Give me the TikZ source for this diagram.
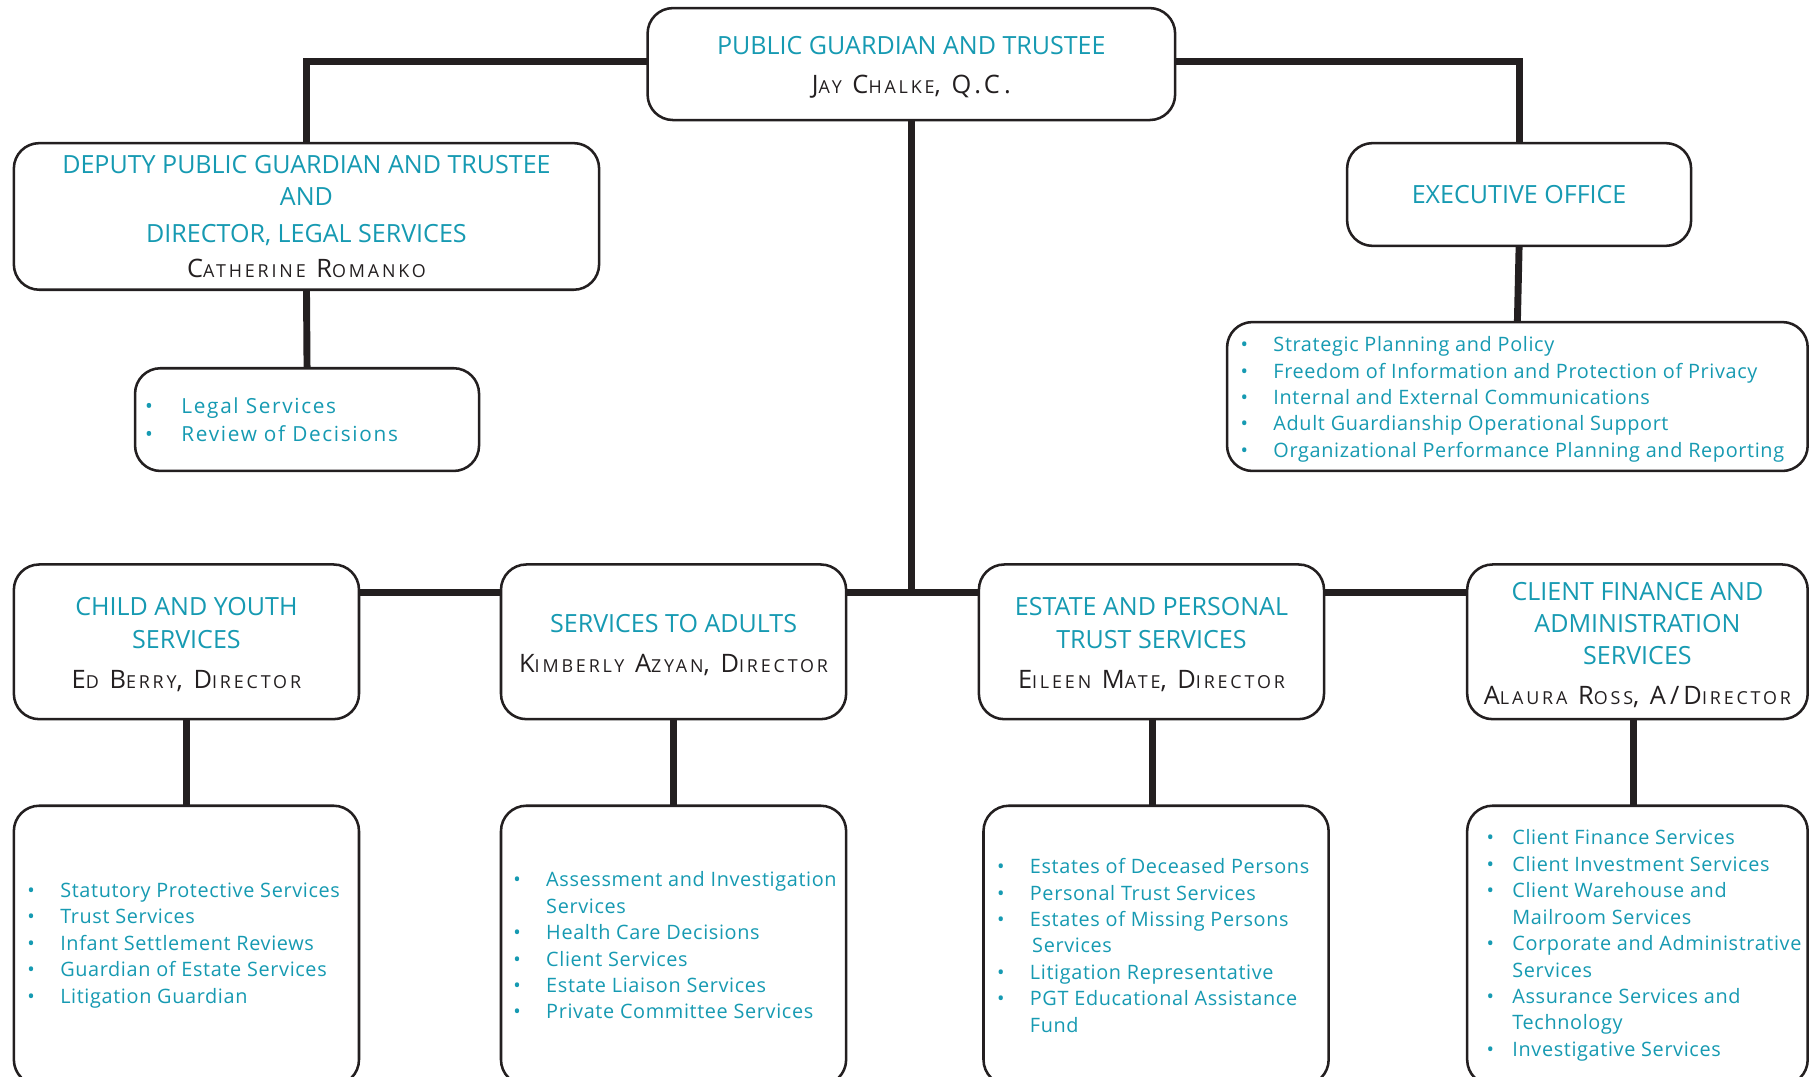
\documentclass[tikz,border=0pt]{standalone}
\usepackage{fontspec}
\setmainfont{Open Sans}
\newfontfamily\bodyfam{Open Sans}[LetterSpace=3.2]
\newfontfamily\namefam{Open Sans}[LetterSpace=16]
\newfontfamily\legalfam{Open Sans}[LetterSpace=8]
\usetikzlibrary{backgrounds}
\definecolor{tealtxt}{RGB}{22,154,178}
\definecolor{ink}{RGB}{35,31,32}
\newcommand\hdfont{\fontsize{21.7}{28}\selectfont}
\newcommand\lstfont{\bodyfam\fontsize{17.2}{22.9}\selectfont}
\newcommand\nm[1]{{\color{ink}\namefam\fontsize{22}{22}\selectfont #1}}
\newcommand\sm[1]{{\fontsize{15.5}{15.5}\selectfont #1}}
\newcommand\bu[1]{\makebox[#1pt][l]{•}}
\newcommand\ind[1]{\hspace*{#1pt}}
\newcommand\up{\rule{0pt}{21pt}}
\tikzset{
  box/.style={draw=ink, line width=2.2pt, rounded corners=22pt, fill=white, inner sep=0pt, outer sep=0pt},
  conn/.style={draw=ink, line width=6pt},
  hd/.style={text=tealtxt, align=center, font=\hdfont},
  lst/.style={text=tealtxt, align=left, anchor=west, font=\lstfont, inner sep=0pt},
}
\begin{document}
\begin{tikzpicture}[x=1pt,y=-1pt]
\useasboundingbox (0,0) rectangle (1568,933);
% header boxes
\node[box,hd,minimum width=457,minimum height=97] (pgt) at (789.5,55.5)
  {\up PUBLIC GUARDIAN AND TRUSTEE\\[6pt]\nm{J\sm{AY} C\sm{HALKE}, Q.C.}};
\node[box,hd,minimum width=507,minimum height=127] (dep) at (265.5,187.5)
  {DEPUTY PUBLIC GUARDIAN AND TRUSTEE\\AND\\[4pt]DIRECTOR, LEGAL SERVICES\\[2pt]\nm{C\sm{ATHERINE} R\sm{OMANKO}}};
\node[box,hd,minimum width=298,minimum height=89] (exo) at (1316,168.5) {EXECUTIVE OFFICE};
\node[box,minimum width=298,minimum height=89] (legal) at (266,363.5) {};
\node[box,minimum width=503,minimum height=129] (exl) at (1314.5,343.5) {};
\node[box,hd,minimum width=299,minimum height=134] (child) at (161.5,556)
  {\up CHILD AND YOUTH\\SERVICES\\[7pt]\nm{E\sm{D} B\sm{ERRY}, D\sm{IRECTOR}}};
\node[box,hd,minimum width=299,minimum height=134] (adult) at (583.5,556)
  {\up SERVICES TO ADULTS\\[7pt]\nm{K\sm{IMBERLY} A\sm{ZYAN}, D\sm{IRECTOR}}};
\node[box,hd,minimum width=299,minimum height=134] (estate) at (997.5,556)
  {\up ESTATE AND PERSONAL\\TRUST SERVICES\\[7pt]\nm{E\sm{ILEEN} M\sm{ATE}, D\sm{IRECTOR}}};
\node[box,hd,minimum width=295,minimum height=134] (cf) at (1418.5,556)
  {\up CLIENT FINANCE AND\\ADMINISTRATION\\SERVICES\\[6pt]\nm{A\sm{LAURA} R\sm{OSS}, A/D\sm{IRECTOR}}};
% list boxes
\node[box,minimum width=299,minimum height=242] (childl) at (161.5,819) {};
\node[box,minimum width=299,minimum height=242] (adultl) at (583.5,819) {};
\node[box,minimum width=299,minimum height=242] (estatel) at (1001.5,819) {};
\node[box,minimum width=295,minimum height=242] (cfl) at (1418.5,819) {};
% list texts
\node[lst,font=\legalfam\fontsize{18}{24}\selectfont] (legalt) at ([xshift=8.6]legal.west)
  {\bu{31.4}Legal Services\\\bu{31.4}Review of Decisions};
\node[lst] (exlt) at ([xshift=11.6,yshift=-2.5]exl.west)
  {\bu{28.4}Strategic Planning and Policy\\
   \bu{28.4}Freedom of Information and Protection of Privacy\\
   \bu{28.4}Internal and External Communications\\
   \bu{28.4}Adult Guardianship Operational Support\\
   \bu{28.4}Organizational Performance Planning and Reporting};
\node[lst] (childt) at ([xshift=11.6]childl.west)
  {\bu{28.4}Statutory Protective Services\\
   \bu{28.4}Trust Services\\
   \bu{28.4}Infant Settlement Reviews\\
   \bu{28.4}Guardian of Estate Services\\
   \bu{28.4}Litigation Guardian};
\node[lst] (adultt) at ([xshift=10.6]adultl.west)
  {\bu{28.4}Assessment and Investigation\\
   \ind{28.4}Services\\
   \bu{28.4}Health Care Decisions\\
   \bu{28.4}Client Services\\
   \bu{28.4}Estate Liaison Services\\
   \bu{28.4}Private Committee Services};
\node[lst] (estatet) at ([xshift=11.6]estatel.west)
  {\bu{28.4}Estates of Deceased Persons\\
   \bu{28.4}Personal Trust Services\\
   \bu{28.4}Estates of Missing Persons\\
   \ind{30.4}Services\\
   \bu{28.4}Litigation Representative\\
   \bu{28.4}PGT Educational Assistance\\
   \ind{28.4}Fund};
\node[lst] (cflt) at ([xshift=16.6]cfl.west)
  {\bu{22.4}Client Finance Services\\
   \bu{22.4}Client Investment Services\\
   \bu{22.4}Client Warehouse and\\
   \ind{22.4}Mailroom Services\\
   \bu{22.4}Corporate and Administrative\\
   \ind{22.4}Services\\
   \bu{22.4}Assurance Services and\\
   \ind{22.4}Technology\\
   \bu{22.4}Investigative Services};
% connectors
\coordinate (hub) at (789.5,513);
\begin{scope}[on background layer]
  \draw[conn] ([yshift=2.5pt]pgt.west) -| (dep.north);
  \draw[conn] ([yshift=2.5pt]pgt.east) -| (exo.north);
  \draw[conn] (dep.south) -- (legal.north);
  \draw[conn] (exo.south) -- (exl.north);
  \draw[conn] (pgt.south) -- (hub);
  \draw[conn] (child.east |- hub) -- (cf.west |- hub);
  \draw[conn] (child.south) -- (childl.north);
  \draw[conn] (adult.south) -- (adultl.north);
  \draw[conn] ([xshift=0.5]estate.south) -- ([xshift=0.5]estate.south |- estatel.north);
  \draw[conn] ([xshift=-3.5]cf.south) -- ([xshift=-3.5]cfl.north);
\end{scope}
\end{tikzpicture}
\end{document}
